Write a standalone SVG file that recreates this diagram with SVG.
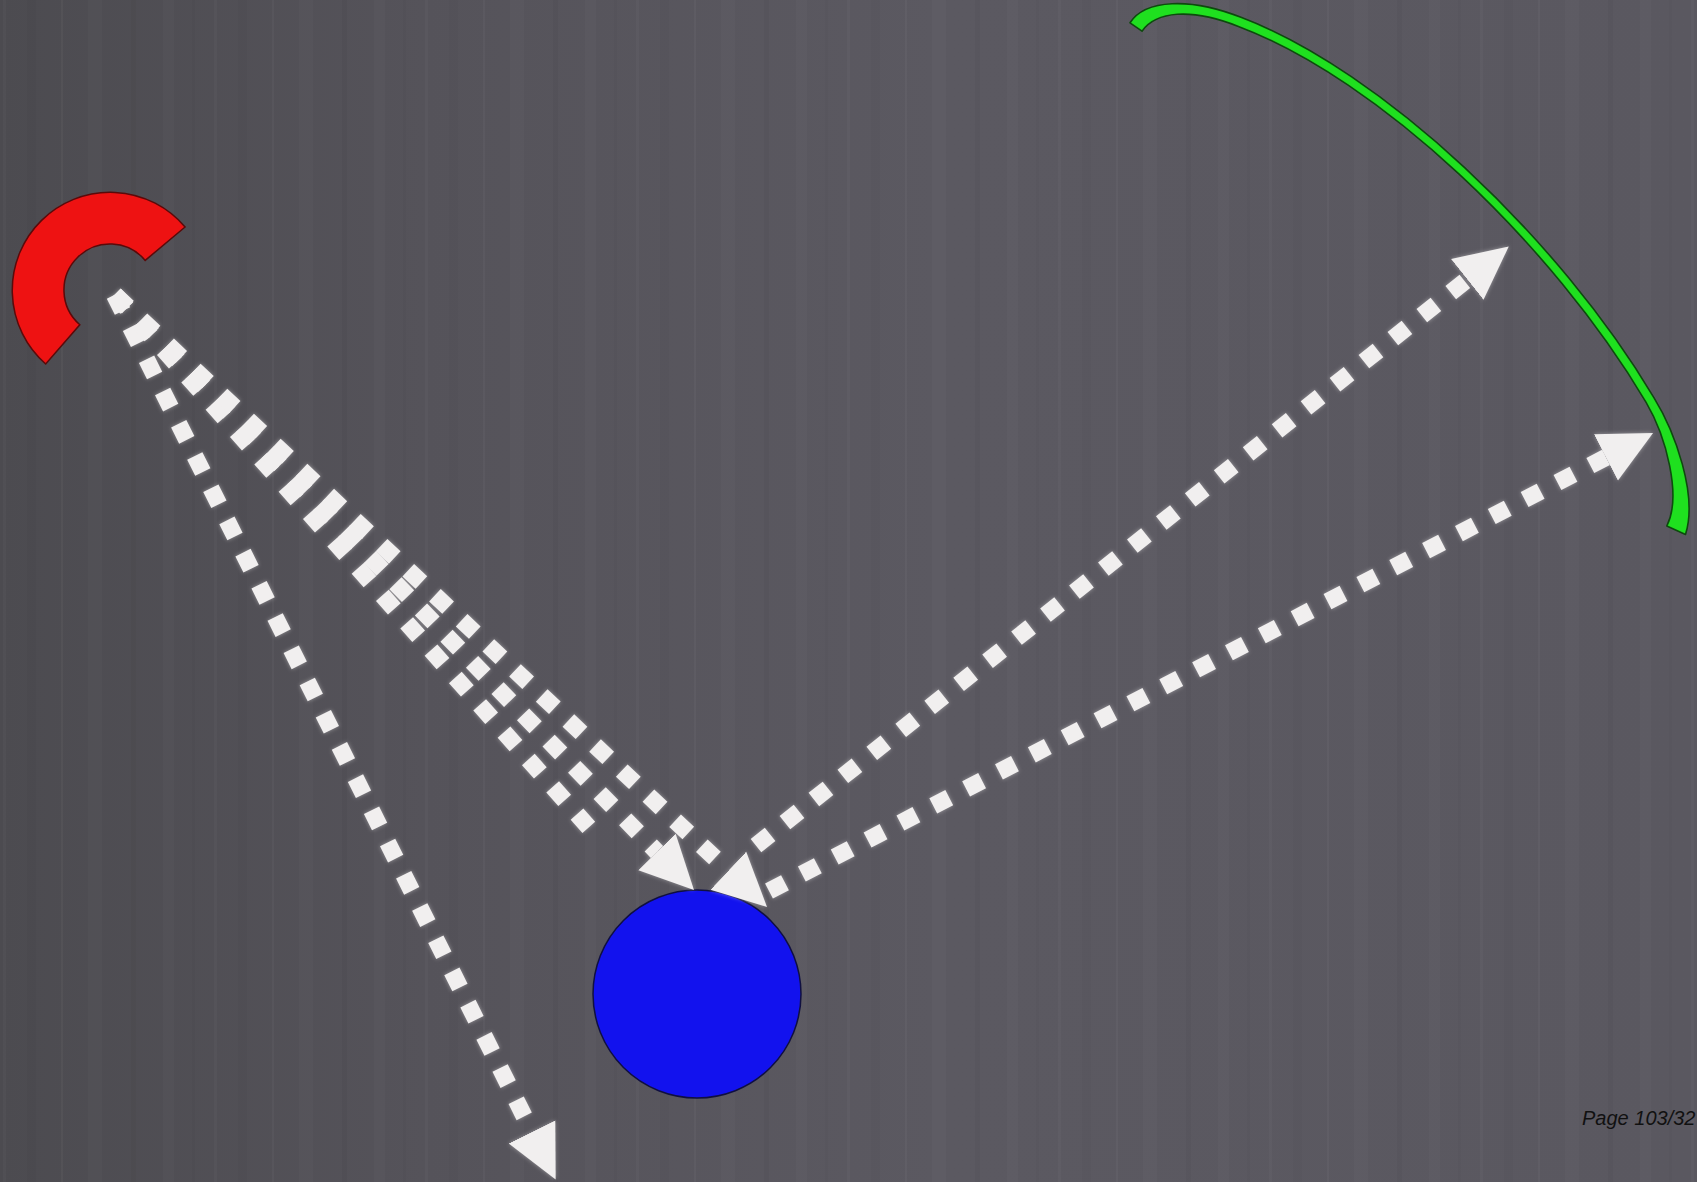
<svg xmlns="http://www.w3.org/2000/svg" width="1697" height="1182" viewBox="0 0 1697 1182">
  <defs>
    <linearGradient id="bg" x1="0" y1="0" x2="1" y2="0">
      <stop offset="0" stop-color="#4c4b50"/>
      <stop offset="0.25" stop-color="#55535a"/>
      <stop offset="0.55" stop-color="#5b5961"/>
      <stop offset="1" stop-color="#5a5860"/>
    </linearGradient>
    <pattern id="streaks" patternUnits="userSpaceOnUse" width="211" height="1182">
      <rect x="3" y="0" width="3" height="1182" fill="#ffffff" opacity="0.025"/>
      <rect x="27" y="0" width="9" height="1182" fill="#000000" opacity="0.025"/>
      <rect x="61" y="0" width="2" height="1182" fill="#ffffff" opacity="0.03"/>
      <rect x="88" y="0" width="14" height="1182" fill="#ffffff" opacity="0.02"/>
      <rect x="131" y="0" width="5" height="1182" fill="#000000" opacity="0.03"/>
      <rect x="163" y="0" width="11" height="1182" fill="#ffffff" opacity="0.02"/>
      <rect x="192" y="0" width="3" height="1182" fill="#000000" opacity="0.025"/>
    </pattern>
    <filter id="glow" filterUnits="userSpaceOnUse" x="0" y="0" width="1697" height="1182">
      <feGaussianBlur in="SourceGraphic" stdDeviation="2"/>
      <feComponentTransfer><feFuncA type="linear" slope="0.45"/></feComponentTransfer>
      <feMerge><feMergeNode/><feMergeNode in="SourceGraphic"/></feMerge>
    </filter>
    <marker id="ah" markerUnits="userSpaceOnUse" markerWidth="54" markerHeight="54" viewBox="0 -27 54 54" refX="0" refY="0" orient="auto">
      <path d="M0,-26 L53,0 L0,26 Z" fill="#f1efef"/>
    </marker>
    <style>
      .dash { fill: none; stroke: #f1efef; stroke-width: 17; stroke-linecap: butt; stroke-dashoffset: -1; }
      .dl { stroke-dasharray: 18 18; }
      .dm { stroke-dasharray: 18 18.6; }
      .dr { stroke-dasharray: 18 19; stroke-dashoffset: 0; }
      .arr { marker-end: url(#ah); }
    </style>
  </defs>

  <rect x="0" y="0" width="1697" height="1182" fill="url(#bg)"/>
  <rect x="0" y="0" width="1697" height="1182" fill="url(#streaks)"/>

  <g id="red-arc">
    <path d="M45.7,364 A98,98 0 1 1 185.1,227 L145.2,260.4 A46,46 0 1 0 79.8,324.7 Z" fill="#ee1212" stroke="#5a0a0a" stroke-width="1.5"/>
  </g>

  <g id="green-arc">
    <path d="M1130,22.8 C1145,-0.5 1190,-3 1241.6,17.6 C1381.6,70.8 1558.9,237.7 1653.9,397.7 C1675,432 1698,495 1685.5,534.5 L1666.8,526 C1682,496 1666,436 1646.1,402.3 C1551.1,242.3 1378.4,79.2 1238.4,26.4 C1190,7.5 1156,11.5 1142,31.2 Z" fill="#1fe01f" stroke="#0e4a0e" stroke-width="1.6" stroke-linejoin="round"/>
  </g>

  <g id="blue-circle">
    <circle cx="697" cy="994" r="104" fill="#1212ee" stroke="#101040" stroke-width="1.5"/>
  </g>

  <g id="connectors" filter="url(#glow)">
    <path class="dash dl arr" d="M114,294 L532,1132"/>
    <path class="dash dm" d="M114,294 L588.8,827.4"/>
    <path class="dash dm arr" d="M114,294 L657,852"/>
    <path class="dash dm arr" d="M114,294 L728.4,870.7"/>
    <path class="dash dr arr" d="M756,845.6 L1467.3,279.4"/>
    <path class="dash dr arr" d="M769,891 L1606,457.4"/>
  </g>

  <g id="page-label">
    <text x="1582" y="1125" font-family="Liberation Sans, Arial, sans-serif" font-size="20" font-style="italic" fill="#111111">Page 103/32</text>
  </g>
</svg>
